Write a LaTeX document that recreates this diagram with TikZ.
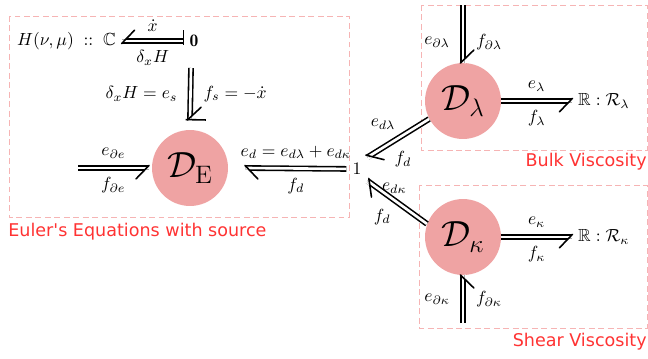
\documentclass[tikz,border=0pt]{standalone}
\usepackage{amssymb}
\usepackage{fontspec}
\newfontfamily\groupfont[Ligatures=TeXOff]{DejaVu Sans}
\usetikzlibrary{calc,decorations.markings}
\definecolor{dissip}{HTML}{EFA3A3}
\definecolor{groupline}{HTML}{F6B4B4}
\definecolor{grouptext}{HTML}{FF3333}

\begin{document}
\begin{tikzpicture}[x=0.57pt, y=-0.57pt,
  bond/.style={double, double distance=1.5pt, line width=.9pt},
  barbR/.style={postaction={decorate, decoration={markings, mark=at position 1 with {
      \fill[white] (-1.9pt,-.72pt) -- (.4pt,-.72pt) -- (.4pt,-1.7pt) -- (-2.85pt,-1.7pt) -- cycle;
      \draw[line width=.9pt, line cap=round] (.25pt,1.5pt) -- (-7.2pt,-6.2pt);}}}},
  barbL/.style={postaction={decorate, decoration={markings, mark=at position 1 with {
      \fill[white] (-1.9pt,.72pt) -- (.4pt,.72pt) -- (.4pt,1.7pt) -- (-2.85pt,1.7pt) -- cycle;
      \draw[line width=.9pt, line cap=round] (.25pt,-1.5pt) -- (-7.2pt,6.2pt);}}}},
  cstart/.style={postaction={decorate, decoration={markings, mark=at position 0 with {
      \draw[line width=.9pt] (0pt,2.2pt) -- (0pt,-6.5pt);}}}},
  cend/.style={postaction={decorate, decoration={markings, mark=at position 1 with {
      \draw[line width=.9pt] (0pt,-2.5pt) -- (0pt,9pt);}}}},
  lbl/.style={inner sep=5pt},
  lblside/.style={inner sep=7pt},
  dissnode/.style={circle, fill=dissip, minimum size=43.3pt, inner sep=0pt, font=\huge},
  group/.style={draw=groupline, line width=.5pt, dash pattern=on 3.4pt off 2pt},
  grouplabel/.style={inner sep=0pt, font=\groupfont, text=grouptext}
]
  \useasboundingbox (0,0) rectangle (648,358);

  % subsystem boxes
  \draw[group] (9,16) rectangle (349,217);
  \draw[group] (421,5) rectangle (647,150);
  \draw[group] (419,185) rectangle (647,328);
  \node[grouplabel, anchor=west] (eulerlbl) at (8,232) {Euler's Equations with source};
  \node[grouplabel, anchor=east] (bulklbl) at (647,162) {Bulk Viscosity};
  \node[grouplabel, anchor=east] (shearlbl) at (647,342) {Shear Viscosity};

  % elements
  \node[dissnode] (DE) at (190,168) {$\mathcal{D}_{\mathrm{E}}$};
  \node[dissnode] (DL) at (463,101) {$\mathcal{D}_\lambda$};
  \node[dissnode] (DK) at (463,237) {$\mathcal{D}_\kappa$};
  \node[anchor=east] (sto) at (122,41) {$H(\nu,\mu) \mathrel{\;::\;} \mathbb{C}$};
  \node (zero) at (194,41) {$\mathbf{0}$};
  \node (one) at (357,169) {$1$};
  \node[anchor=west] (RL) at (572,101) {$\mathbb{R} : \mathcal{R}_\lambda$};
  \node[anchor=west] (RK) at (572,237) {$\mathbb{R} : \mathcal{R}_\kappa$};
  \coordinate (se) at (191,68);
  \coordinate (ebe) at (78,168);
  \coordinate (bl) at (463,5);
  \coordinate (bk) at (463,323);

  % bonds
  \draw[bond, barbR, cstart] (zero) -- node[lbl, above]{$\dot{x}$} node[lbl, below]{$\delta_x H$} (sto);
  \draw[bond, barbL, cend] (se) -- node[lblside, left]{$\delta_x H = e_s$} node[lblside, right]{$f_s = -\dot{x}$}
    ($(DE.north)+(0,-10)$);
  \draw[bond, barbR] (ebe) -- node[lbl, above]{$e_{\partial e}$} node[lbl, below]{$f_{\partial e}$}
    ($(DE.west)+(-3,0)$);
  \draw[bond, barbL] (one) -- node[lbl, above]{$e_d = e_{d\lambda} + e_{d\kappa}$} node[lbl, below]{$f_d$}
    ($(DE.east)+(17,0)$);
  \draw[bond, barbL] (DL.208) -- node[pos=.44, above left]{$e_{d\lambda}$} node[pos=.67, below right]{$f_d$} (one.north east);
  \draw[bond, barbL] (DK.160) -- node[pos=.55, above]{$e_{d\kappa}$} node[below left]{$f_d$} (one.south east);
  \draw[bond, barbR] (DL) -- node[lbl, above]{$e_\lambda$} node[lbl, below]{$f_\lambda$} (RL);
  \draw[bond, barbR] (DK) -- node[lbl, above]{$e_\kappa$} node[lbl, below]{$f_\kappa$} (RK);
  \draw[bond, barbL] (bl) -- node[lblside, pos=.65, left]{$e_{\partial\lambda}$} node[lblside, pos=.65, right]{$f_{\partial\lambda}$} (DL);
  \draw[bond, barbR] (bk) -- node[lblside, left]{$e_{\partial\kappa}$} node[lblside, right]{$f_{\partial\kappa}$} (DK);
\end{tikzpicture}
\end{document}
